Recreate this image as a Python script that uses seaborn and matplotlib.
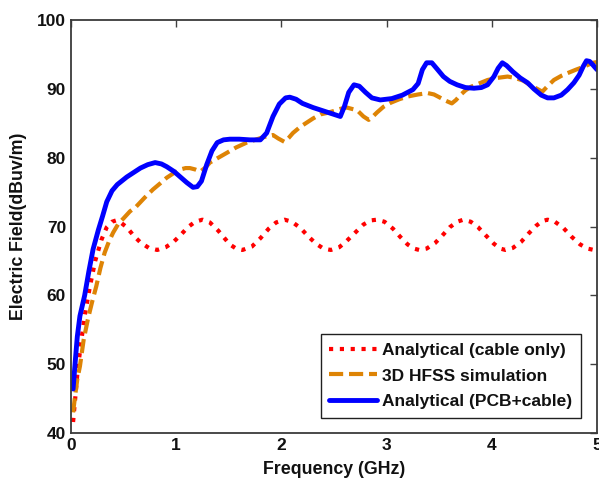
import matplotlib
matplotlib.use("Agg")
import matplotlib.pyplot as plt
import seaborn as sns

# Analytical model, cable only
freq_cable = [0.02, 0.04, 0.06, 0.09, 0.13, 0.18, 0.23, 0.29, 0.34, 0.39, 0.43, 0.48,
              0.53, 0.60, 0.66, 0.74, 0.82, 0.90, 0.97, 1.05, 1.11, 1.18, 1.25, 1.32,
              1.40, 1.46, 1.51, 1.57, 1.63, 1.72, 1.80, 1.88, 1.95, 2.03, 2.10, 2.18,
              2.26, 2.33, 2.40, 2.47, 2.55, 2.62, 2.70, 2.78, 2.85, 2.91, 2.98, 3.06,
              3.13, 3.20, 3.26, 3.31, 3.38, 3.46, 3.53, 3.60, 3.67, 3.73, 3.80, 3.87,
              3.95, 4.02, 4.08, 4.13, 4.20, 4.28, 4.35, 4.42, 4.48, 4.53, 4.60, 4.68,
              4.76, 4.84, 4.91, 4.97, 5.00]
field_cable = [41.6, 45.0, 48.5, 52.5, 57.0, 61.3, 65.0, 68.1, 69.9, 70.7, 70.9, 70.5,
               69.9, 68.6, 67.7, 66.9, 66.6, 67.0, 67.7, 68.9, 69.9, 70.7, 71.0, 70.6,
               69.4, 68.3, 67.4, 66.8, 66.6, 67.1, 68.3, 69.7, 70.6, 71.0, 70.7, 69.8,
               68.5, 67.5, 66.8, 66.6, 67.0, 67.9, 69.1, 70.3, 70.9, 71.0, 70.7, 69.7,
               68.5, 67.4, 66.8, 66.6, 66.8, 67.6, 68.7, 69.9, 70.7, 71.0, 70.7, 69.9,
               68.6, 67.5, 66.8, 66.6, 66.9, 67.8, 69.0, 70.1, 70.8, 71.0, 70.7, 69.8,
               68.5, 67.4, 66.8, 66.6, 66.6]

# Full-wave 3D HFSS simulation
freq_hfss = [0.02, 0.04, 0.06, 0.085, 0.12, 0.16, 0.20, 0.24, 0.28, 0.32, 0.36, 0.40,
             0.45, 0.50, 0.56, 0.62, 0.70, 0.78, 0.85, 0.91, 0.98, 1.04, 1.09, 1.13,
             1.18, 1.23, 1.28, 1.32, 1.40, 1.48, 1.57, 1.67, 1.75, 1.83, 1.92, 1.97,
             2.03, 2.07, 2.11, 2.18, 2.24, 2.30, 2.37, 2.43, 2.50, 2.56, 2.62, 2.67,
             2.72, 2.78, 2.83, 2.87, 2.91, 2.97, 3.04, 3.12, 3.20, 3.30, 3.39, 3.45,
             3.50, 3.56, 3.62, 3.66, 3.70, 3.75, 3.80, 3.88, 3.96, 4.05, 4.15, 4.22,
             4.30, 4.36, 4.42, 4.48, 4.53, 4.59, 4.66, 4.72, 4.80, 4.87, 4.96, 5.00]
field_hfss = [43.0, 45.5, 47.8, 49.7, 53.5, 56.5, 59.0, 61.3, 64.0, 66.2, 67.8, 69.1,
              70.4, 71.2, 72.2, 72.9, 74.2, 75.4, 76.3, 77.1, 77.8, 78.3, 78.5, 78.5,
              78.3, 78.0, 78.6, 79.3, 80.0, 80.7, 81.5, 82.2, 82.6, 83.0, 83.3, 82.8,
              82.3, 82.9, 83.6, 84.5, 85.1, 85.7, 86.3, 86.5, 86.8, 87.1, 87.3, 87.1,
              86.9, 86.0, 85.5, 86.0, 86.6, 87.4, 88.0, 88.5, 88.9, 89.2, 89.4, 89.2,
              88.8, 88.3, 87.9, 88.4, 89.1, 89.8, 90.3, 90.8, 91.3, 91.6, 91.8, 91.6,
              91.2, 90.6, 90.1, 89.6, 90.4, 91.3, 91.9, 92.3, 92.8, 93.2, 93.8, 93.9]

# Analytical model, PCB + cable
freq_pcb = [0.02, 0.04, 0.06, 0.085, 0.13, 0.17, 0.21, 0.26, 0.30, 0.34, 0.39, 0.44,
            0.53, 0.60, 0.66, 0.73, 0.80, 0.86, 0.91, 0.98, 1.04, 1.10, 1.16, 1.20,
            1.24, 1.29, 1.34, 1.39, 1.45, 1.51, 1.60, 1.70, 1.80, 1.86, 1.92, 1.98,
            2.04, 2.08, 2.14, 2.20, 2.30, 2.40, 2.50, 2.56, 2.60, 2.64, 2.69, 2.74,
            2.80, 2.86, 2.94, 3.05, 3.15, 3.25, 3.30, 3.34, 3.38, 3.43, 3.48, 3.54,
            3.60, 3.67, 3.75, 3.83, 3.90, 3.96, 4.02, 4.06, 4.10, 4.14, 4.20, 4.27,
            4.34, 4.40, 4.47, 4.53, 4.59, 4.66, 4.72, 4.78, 4.83, 4.87, 4.90, 4.93,
            4.96, 5.00]
field_pcb = [46.4, 50.3, 54.0, 57.0, 60.0, 63.5, 66.7, 69.5, 71.5, 73.6, 75.2, 76.1,
             77.2, 77.9, 78.5, 79.0, 79.3, 79.1, 78.7, 78.0, 77.2, 76.4, 75.7, 75.8,
             76.6, 79.0, 81.0, 82.2, 82.6, 82.7, 82.7, 82.6, 82.6, 83.6, 86.0, 87.8,
             88.7, 88.8, 88.5, 87.9, 87.3, 86.8, 86.3, 86.0, 87.5, 89.5, 90.6, 90.4,
             89.5, 88.7, 88.4, 88.6, 89.1, 89.9, 90.8, 92.8, 93.8, 93.8, 92.9, 91.8,
             91.1, 90.6, 90.2, 90.1, 90.2, 90.6, 91.8, 93.0, 93.8, 93.4, 92.5, 91.6,
             90.9, 90.0, 89.1, 88.7, 88.7, 89.1, 89.9, 90.9, 92.0, 93.3, 94.1, 94.0,
             93.5, 92.8]

x_ticks = [0, 1, 2, 3, 4, 5]
y_ticks = [40, 50, 60, 70, 80, 90, 100]

sns.set_theme(style="white")
plt.rcParams["font.family"] = ["Liberation Sans", "DejaVu Sans"]
plt.rcParams["font.weight"] = "bold"

fig = plt.figure(figsize=(5.99, 4.79), dpi=100)
ax = fig.add_axes([0.1185, 0.096, 0.8782, 0.862])

sns.lineplot(x=freq_cable, y=field_cable, ax=ax, color="#FF0000", lw=3.0,
             linestyle=(0, (1, 1.6)), label="Analytical (cable only)")
sns.lineplot(x=freq_hfss, y=field_hfss, ax=ax, color="#DE8405", lw=3.0,
             linestyle=(0, (3.4, 1.4)), label="3D HFSS simulation")
sns.lineplot(x=freq_pcb, y=field_pcb, ax=ax, color="#0000FF", lw=3.5,
             linestyle="-", label="Analytical (PCB+cable)")

ax.set_xlim(0, 5)
ax.set_ylim(40, 100)
ax.set_xticks(x_ticks)
ax.set_yticks(y_ticks)
ax.tick_params(direction="in", length=5, width=1, color="#404040",
               top=True, right=True, labelsize=12.5, pad=3.5, labelcolor="#111111")
for lab in ax.get_xticklabels() + ax.get_yticklabels():
    lab.set_fontweight("bold")
for sp in ax.spines.values():
    sp.set_color("#3a3a3a")
    sp.set_linewidth(1.3)

ax.set_xlabel("Frequency (GHz)", fontsize=12.8, fontweight="bold", labelpad=6,
              color="#111111")
ax.set_ylabel("Electric Field(dBuv/m)", fontsize=12.8, fontweight="bold", labelpad=7,
              color="#111111")

leg = ax.legend(loc="lower right", bbox_to_anchor=(0.97, 0.036), borderaxespad=0,
                handlelength=2.75, handletextpad=0.3, labelspacing=0.62,
                borderpad=0.5, fancybox=False, framealpha=1, edgecolor="#202020",
                prop={"weight": "bold", "size": 12.5})
leg.get_frame().set_linewidth(1.0)
for t in leg.get_texts():
    t.set_color("#111111")

fig.savefig("out.png", dpi=100)
